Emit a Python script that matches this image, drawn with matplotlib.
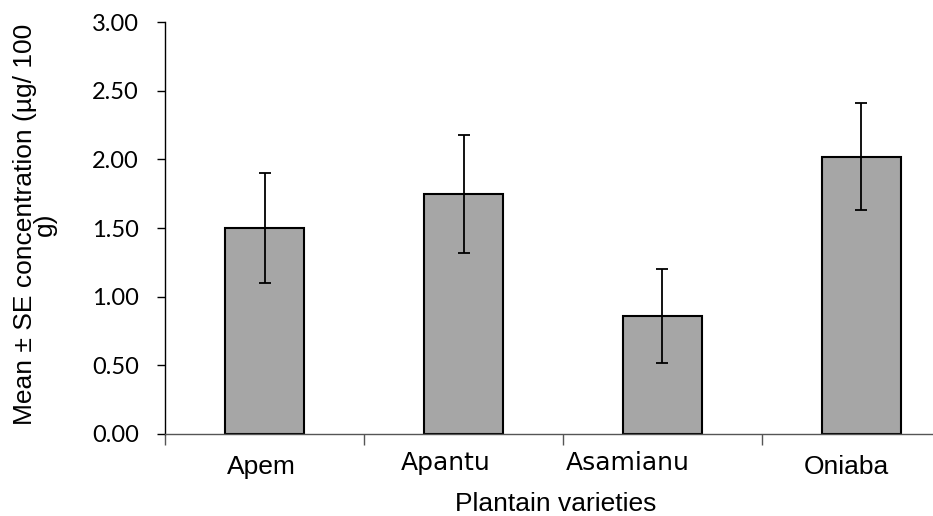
import matplotlib
matplotlib.use("Agg")
import matplotlib.pyplot as plt
from matplotlib.transforms import ScaledTranslation
import numpy as np

# values
varieties = ["Apem", "Apantu", "Asamianu", "Oniaba"]
mean_conc = [1.50, 1.75, 0.86, 2.02]
se_conc = [0.40, 0.43, 0.34, 0.39]
y_ticks = [0.0, 0.5, 1.0, 1.5, 2.0, 2.5, 3.0]

fig = plt.figure(figsize=(9.33, 5.16), dpi=100)
ax = fig.add_axes([0.177, 0.159, 0.823, 0.798])

x = np.arange(len(varieties))
ax.bar(x, mean_conc, width=0.4, color="#a6a6a6", edgecolor="black", linewidth=1.5,
       yerr=se_conc, capsize=4.5, error_kw=dict(elinewidth=1.3, capthick=1.3, ecolor="black"),
       zorder=2)

ax.set_ylim(0, 3.0)
ax.set_xlim(-0.5, 3.36)
ax.set_yticks(y_ticks)
ax.set_yticklabels([f"{v:.2f}" for v in y_ticks], fontsize=17, family=["Lato", "DejaVu Sans"])
ax.tick_params(axis="y", direction="out", length=6, width=1, pad=13)

# category labels centred, ticks at the category boundaries
ax.set_xticks(x)
ax.set_xticks(np.arange(-0.5, len(varieties) - 0.5, 1.0), minor=True)
ax.tick_params(axis="x", which="major", length=0, pad=15)
ax.tick_params(axis="x", which="minor", direction="out", length=8, width=1, color="#555555")
ax.set_xticklabels(varieties, fontsize=19, family=["Liberation Sans", "DejaVu Sans"])

# labels in the original are text boxes, a little left of their bars;
# two of them are in a wider font
shift = {"Apem": (-3, 0), "Apantu": (-18, 4), "Asamianu": (-35, 4), "Oniaba": (-15, 0)}
for lab in ax.get_xticklabels():
    name = lab.get_text()
    if name in ("Apantu", "Asamianu"):
        lab.set_family(["DejaVu Sans"])
        lab.set_fontsize(18)
    dx, dy = shift[name]
    lab.set_transform(lab.get_transform() +
                      ScaledTranslation(dx / 100, dy / 100, fig.dpi_scale_trans))

for s in ["top", "right"]:
    ax.spines[s].set_visible(False)
ax.spines["left"].set_linewidth(1)
ax.spines["bottom"].set_linewidth(1)
ax.spines["bottom"].set_color("#555555")

ax.set_xlabel("Plantain varieties", fontsize=19, family=["Liberation Sans", "DejaVu Sans"])
ax.xaxis.set_label_coords(0.508, -0.140)
ax.set_ylabel("Mean ± SE concentration (µg/ 100\ng)", fontsize=19,
              family=["Liberation Sans", "DejaVu Sans"], linespacing=0.8)
ax.yaxis.set_label_coords(-0.141, 0.51)

fig.savefig("out.png", dpi=100)
